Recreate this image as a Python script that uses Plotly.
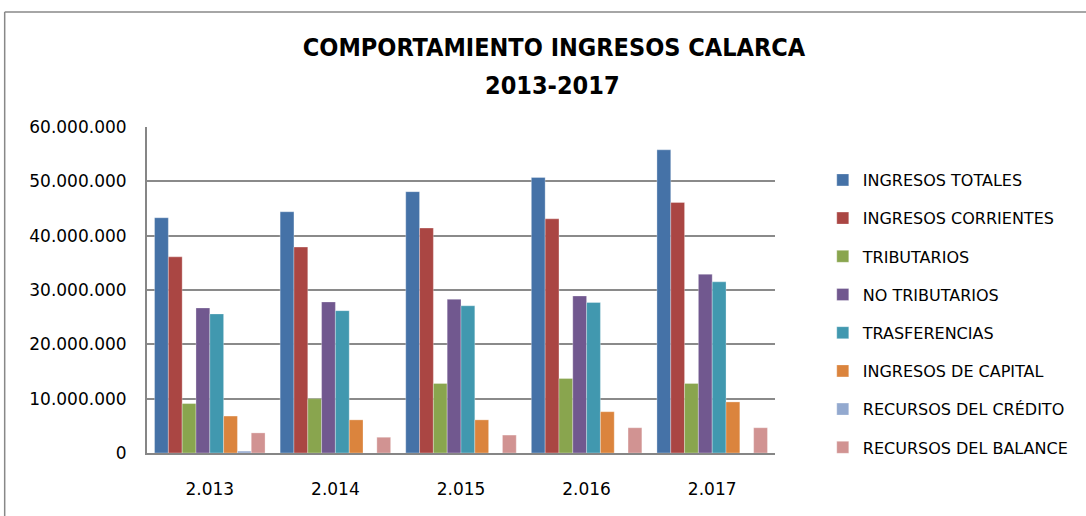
import plotly.graph_objects as go

years = ["2.013", "2.014", "2.015", "2.016", "2.017"]
series_names = [
    "INGRESOS TOTALES", "INGRESOS CORRIENTES", "TRIBUTARIOS", "NO TRIBUTARIOS",
    "TRASFERENCIAS", "INGRESOS DE CAPITAL", "RECURSOS DEL CRÉDITO", "RECURSOS DEL BALANCE",
]
ingresos_totales = [43300000, 44400000, 48100000, 50700000, 55800000]
ingresos_corrientes = [36100000, 37900000, 41400000, 43100000, 46100000]
tributarios = [9100000, 10000000, 12800000, 13700000, 12800000]
no_tributarios = [26700000, 27800000, 28300000, 28900000, 32900000]
trasferencias = [25600000, 26200000, 27100000, 27700000, 31500000]
ingresos_capital = [6800000, 6100000, 6100000, 7600000, 9400000]
recursos_credito = [350000, 0, 0, 0, 0]
recursos_balance = [3700000, 2900000, 3300000, 4650000, 4650000]
series_values = [ingresos_totales, ingresos_corrientes, tributarios, no_tributarios,
                 trasferencias, ingresos_capital, recursos_credito, recursos_balance]
colors = ["#4572A7", "#AA4643", "#89A54E", "#71588F", "#4198AF", "#DB843D", "#93A9CF", "#D19392"]

y_ticks = [0, 10000000, 20000000, 30000000, 40000000, 50000000, 60000000]
y_tick_labels = ["0", "10.000.000", "20.000.000", "30.000.000", "40.000.000", "50.000.000", "60.000.000"]

title_line1 = "COMPORTAMIENTO INGRESOS CALARCA"
title_line2 = "2013-2017"

FONT = "DejaVu Sans, sans-serif"
TITLE_FONT = "DejaVu Sans Condensed, Liberation Sans Narrow, DejaVu Sans, sans-serif"

fig = go.Figure()
for i, (name, vals, col) in enumerate(zip(series_names, series_values, colors)):
    fig.add_trace(go.Bar(
        x=years, y=vals, name=name, legendgroup=f"g{i}",
        marker=dict(color=col, line=dict(color="rgba(255,255,255,0.6)", width=0.5)),
    ))

W, H = 1086, 516
L, R, T, B = 147, 778, 127, 453
pw, ph = R - L, B - T

fig.update_layout(
    width=W, height=H,
    margin=dict(l=L, r=W - R, t=T, b=H - B),
    paper_bgcolor="white", plot_bgcolor="white",
    barmode="group", bargap=0.12, bargroupgap=0,
    font=dict(family=FONT, size=17, color="black"),
    title=dict(
        text=f"<b>{title_line1}</b>",
        x=554 / W, xanchor="center", y=1 - 47 / H, yanchor="middle",
        font=dict(family=TITLE_FONT, size=25, color="black"),
    ),
    annotations=[dict(
        text=f"<b>{title_line2}</b>", xref="paper", yref="paper",
        x=(554 - L) / pw, y=(B - 85) / ph, xanchor="center", yanchor="middle",
        showarrow=False, font=dict(family=TITLE_FONT, size=25, color="black"),
    )],
    xaxis=dict(
        showgrid=False, showline=True, linecolor="#868686", linewidth=2,
        ticks="", tickfont=dict(size=17), ticklabelstandoff=20,
    ),
    yaxis=dict(
        range=[0, 60000000], tickvals=y_ticks, ticktext=y_tick_labels,
        showgrid=True, gridcolor="#8a8a8a", gridwidth=1.5,
        showline=True, linecolor="#868686", linewidth=2,
        ticks="", tickfont=dict(size=17), ticklabelstandoff=15,
        zeroline=False,
    ),
    legend=dict(
        x=(826 - L) / pw, xanchor="left", y=(B - 163) / ph, yanchor="top",
        font=dict(size=16), tracegroupgap=14.4, bgcolor="rgba(0,0,0,0)",
        itemwidth=30,
    ),
    shapes=[
        dict(type="line", xref="paper", yref="paper",
             x0=(4 - L) / pw, x1=(1095 - L) / pw, y0=(B - 12) / ph, y1=(B - 12) / ph,
             line=dict(color="#888888", width=1.5), layer="below"),
        dict(type="line", xref="paper", yref="paper",
             x0=(4 - L) / pw, x1=(4 - L) / pw, y0=(B - 530) / ph, y1=(B - 12) / ph,
             line=dict(color="#888888", width=1.5), layer="below"),
    ],
)

fig.write_html("out.html", config={"displayModeBar": False},
               post_script="document.body.style.margin='0px';")
